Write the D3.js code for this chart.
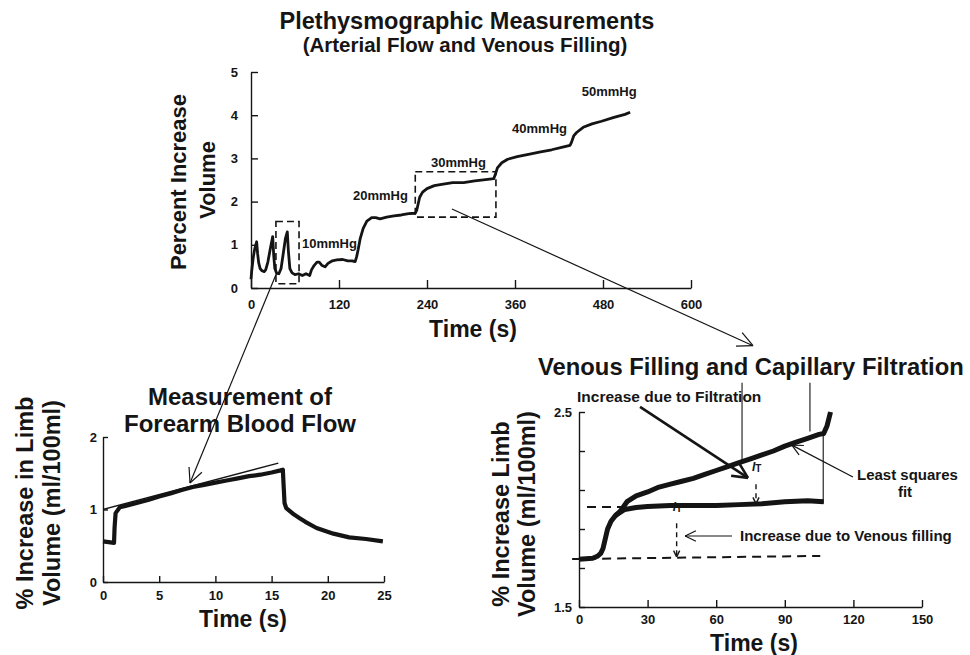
<!DOCTYPE html>
<html>
<head>
<meta charset="utf-8">
<script src="https://cdn.jsdelivr.net/npm/d3@7"></script>
<style>
  body { margin: 0; background: #fff; }
  svg { display: block; }
  text { font-family: "Liberation Sans", Arial, sans-serif; font-weight: bold; fill: #151515; }
  .axis path, .axis line { stroke: #151515; stroke-width: 1.4; }
  .axis text { font-family: "Liberation Sans", Arial, sans-serif; font-weight: bold; font-size: 13px; fill: #151515; }
</style>
</head>
<body>
<div class="chart"></div>
<script>
// Main trace (time s, percent increase volume)
var mainTrace = [
  [0, 0.2], [1, 0.4], [3, 0.7], [5, 0.9], [7.7, 1.07], [9, 0.8], [10.5, 0.58], [12.5, 0.45],
  [15, 0.4], [18, 0.38], [20, 0.42], [23, 0.6], [26, 0.88], [29.6, 1.19], [31, 0.75], [32.5, 0.45],
  [35, 0.34], [38, 0.33], [41, 0.45], [44, 0.8], [47, 1.15], [49.5, 1.3], [51, 0.85], [53, 0.45],
  [56, 0.35], [60, 0.31], [65, 0.33], [70, 0.29], [75, 0.33], [80, 0.29], [82.5, 0.42], [86, 0.52],
  [90, 0.6], [93, 0.6], [97, 0.52], [101, 0.49], [105, 0.57], [111, 0.63], [117, 0.65], [125, 0.66],
  [132, 0.63], [138, 0.63], [142, 0.61], [144, 0.72], [146, 0.88], [149, 1.15], [153, 1.38],
  [158, 1.55], [164.6, 1.63], [170, 1.63], [176, 1.6], [185, 1.64], [195, 1.67], [205, 1.69],
  [215, 1.72], [224, 1.73], [226, 1.8], [228, 1.95], [230, 2.1], [234, 2.22], [240, 2.3],
  [250, 2.37], [260, 2.4], [275, 2.44], [290, 2.44], [305, 2.48], [320, 2.51], [331, 2.53],
  [333, 2.62], [336, 2.78], [342, 2.9], [350, 2.98], [363, 3.04], [380, 3.1], [395, 3.15],
  [410, 3.2], [425, 3.26], [435, 3.3], [437, 3.37], [440, 3.52], [444, 3.6], [453, 3.72],
  [465, 3.8], [478, 3.86], [495, 3.95], [510, 4.02], [517, 4.07]
];
var mainXTicks = [0, 120, 240, 360, 480, 600];
var mainYTicks = [0, 1, 2, 3, 4, 5];
var pressureLabels = ["10mmHg", "20mmHg", "30mmHg", "40mmHg", "50mmHg"];
var pressurePos = [[69.5, 0.93], [139, 2.04], [245.5, 2.8], [356, 3.59], [451, 4.44]];
var zoomBoxes = [[34, 65.5, 0.1, 1.54], [224, 334, 1.64, 2.69]];

// Forearm blood flow trace (time s, % increase)
var flowTrace = [
  [0, 0.56], [0.5, 0.55], [0.98, 0.54], [1.03, 0.75], [1.12, 0.95], [1.5, 1.03], [2, 1.05],
  [3, 1.09], [4, 1.13], [5, 1.18], [6, 1.22], [7, 1.27], [8, 1.31], [9, 1.34], [10, 1.37],
  [11, 1.4], [12, 1.43], [13, 1.46], [14, 1.48], [15, 1.51], [15.8, 1.54], [16, 1.55],
  [16.08, 1.3], [16.15, 1.09], [16.3, 1.02], [17, 0.93], [17.5, 0.88], [18, 0.83], [19, 0.745],
  [20.5, 0.667], [21.9, 0.616], [23.4, 0.593], [24.9, 0.56]
];
var flowFit = [[0, 1.0], [15.6, 1.64]];
var flowXTicks = [0, 5, 10, 15, 20, 25];
var flowYTicks = [0, 1, 2];

// Venous filling traces (time s, % increase)
var fillRise = [
  [0, 1.745], [3, 1.748], [6, 1.75], [8, 1.76], [9.5, 1.775], [10.5, 1.8], [11.5, 1.85],
  [12.5, 1.9], [14, 1.94], [16, 1.97], [18, 1.99]
];
var fillTotal = [
  [18, 1.99], [21, 2.04], [25, 2.07], [30, 2.09], [35, 2.115], [40, 2.13], [45, 2.145],
  [50, 2.16], [55, 2.18], [60, 2.2], [65, 2.22], [70, 2.24], [75, 2.26], [80, 2.28],
  [85, 2.3], [90, 2.325], [95, 2.345], [100, 2.365], [105, 2.385], [107, 2.39], [108.5, 2.43], [110, 2.5]
];
var fillVenous = [
  [16, 1.97], [20, 2.0], [25, 2.01], [30, 2.015], [40, 2.02], [50, 2.02], [60, 2.02],
  [70, 2.025], [80, 2.03], [90, 2.04], [100, 2.045], [107, 2.04]
];
var dashUpper = [[3.5, 2.013], [19, 2.013]];
var dashLower = [[-3, 1.746], [105.5, 1.762]];
var fillXTicks = [0, 30, 60, 90, 120, 150];
var fillYTicks = [1.5, 1.7, 1.9, 2.1, 2.3, 2.5];
var fillYLabels = ["1.5", "", "", "", "", "2.5"];

var svg = d3.select(".chart").append("svg")
  .attr("width", 970).attr("height", 655);

var xMain = d3.scaleLinear().domain([0, 600]).range([251, 691]);
var yMain = d3.scaleLinear().domain([0, 5]).range([288, 72]);
var xFlow = d3.scaleLinear().domain([0, 25]).range([103, 384]);
var yFlow = d3.scaleLinear().domain([0, 2]).range([582, 437]);
var xFill = d3.scaleLinear().domain([0, 150]).range([579, 922]);
var yFill = d3.scaleLinear().domain([1.5, 2.5]).range([607, 412]);

function drawAxes(x, y, xt, yt, xTick, yTick, xPad, yPad, yFmt) {
  svg.append("g").attr("class", "axis")
    .attr("transform", "translate(0," + y.range()[0] + ")")
    .call(d3.axisBottom(x).tickValues(xt).tickSize(-xTick).tickSizeOuter(0).tickPadding(xPad));
  svg.append("g").attr("class", "axis")
    .attr("transform", "translate(" + x.range()[0] + ",0)")
    .call(d3.axisLeft(y).tickValues(yt).tickSize(-yTick).tickSizeOuter(0).tickPadding(yPad)
      .tickFormat(yFmt || d3.format("d")));
}

function trace(x, y, data, w) {
  svg.append("path").datum(data)
    .attr("fill", "none").attr("stroke", "#141414").attr("stroke-width", w)
    .attr("stroke-linejoin", "round")
    .attr("d", d3.line().x(function (d) { return x(d[0]); }).y(function (d) { return y(d[1]); }));
}

// open arrowhead arrow
function arrow(x1, y1, x2, y2, w, len, dash) {
  svg.append("line").attr("x1", x1).attr("y1", y1).attr("x2", x2).attr("y2", y2)
    .attr("stroke", "#141414").attr("stroke-width", w)
    .attr("stroke-dasharray", dash || null);
  var a = Math.atan2(y2 - y1, x2 - x1);
  [-0.45, 0.45].forEach(function (da) {
    svg.append("line").attr("x1", x2).attr("y1", y2)
      .attr("x2", x2 - len * Math.cos(a + da)).attr("y2", y2 - len * Math.sin(a + da))
      .attr("stroke", "#141414").attr("stroke-width", w);
  });
}

function label(x, y, txt, size, anchor, rot) {
  var t = svg.append("text").attr("font-size", size).attr("text-anchor", anchor || "start").text(txt);
  if (rot) t.attr("transform", "translate(" + x + "," + y + ") rotate(-90)");
  else t.attr("x", x).attr("y", y);
  return t;
}

//---- main chart
drawAxes(xMain, yMain, mainXTicks, mainYTicks, 8, 7, 12, 13);
trace(xMain, yMain, mainTrace, 2.8);
zoomBoxes.forEach(function (b) {
  svg.append("rect")
    .attr("x", xMain(b[0])).attr("y", yMain(b[3]))
    .attr("width", xMain(b[1]) - xMain(b[0])).attr("height", yMain(b[2]) - yMain(b[3]))
    .attr("fill", "none").attr("stroke", "#141414").attr("stroke-width", 1.6)
    .attr("stroke-dasharray", "7,4");
});
pressureLabels.forEach(function (p, i) {
  label(xMain(pressurePos[i][0]), yMain(pressurePos[i][1]), p, 13);
});
label(467, 29, "Plethysmographic Measurements", 23.5, "middle");
label(465, 52, "(Arterial Flow and Venous Filling)", 20.5, "middle");
label(473, 337, "Time (s)", 23, "middle");
label(186, 182, "Percent Increase", 22, "middle", true);
label(215, 180, "Volume", 22, "middle", true);

//---- forearm blood flow
drawAxes(xFlow, yFlow, flowXTicks, flowYTicks, 6, 5, 9, 6);
trace(xFlow, yFlow, flowTrace, 4.2);
trace(xFlow, yFlow, flowFit, 1.3);
label(240, 405, "Measurement of", 24, "middle");
label(240, 432, "Forearm Blood Flow", 24, "middle");
label(243, 627, "Time (s)", 23, "middle");
label(33, 503, "% Increase in Limb", 23.5, "middle", true);
label(60, 503, "Volume (ml/100ml)", 23.5, "middle", true);

//---- venous filling and capillary filtration
drawAxes(xFill, yFill, fillXTicks, fillYTicks, 7, 6, 8, 7,
  function (d, i) { return fillYLabels[i]; });
trace(xFill, yFill, fillRise, 5);
trace(xFill, yFill, fillTotal, 5);
trace(xFill, yFill, fillVenous, 5);
[dashUpper, dashLower].forEach(function (d) {
  svg.append("path").datum(d)
    .attr("fill", "none").attr("stroke", "#141414").attr("stroke-width", 2)
    .attr("stroke-dasharray", "9,6")
    .attr("d", d3.line().x(function (p) { return xFill(p[0]); }).y(function (p) { return yFill(p[1]); }));
});
// vertical guide lines of the fit
[[71.3, 2.65, 2.237], [101, 2.65, 2.4], [106.8, 2.4, 2.03]].forEach(function (v) {
  svg.append("line")
    .attr("x1", xFill(v[0])).attr("x2", xFill(v[0]))
    .attr("y1", yFill(v[1])).attr("y2", yFill(v[2]))
    .attr("stroke", "#141414").attr("stroke-width", 1.1);
});
// I_T markers
[[77.4, 2.13, 2.03, 2.2], [42.7, 1.93, 1.757, 1.99]].forEach(function (m) {
  arrow(xFill(m[0]), yFill(m[1]), xFill(m[0]), yFill(m[2]), 1.4, 7, "5,4");
  var t = svg.append("text").attr("x", xFill(m[0]) - 4).attr("y", yFill(m[3]))
    .attr("font-size", 12).attr("font-family", "DejaVu Serif").attr("font-style", "italic").text("I");
  t.append("tspan").attr("font-size", 10).attr("font-style", "normal").attr("dy", 1).text("T");
});
arrow(xFill(26.7), yFill(2.526), xFill(73.9), yFill(2.162), 2.6, 17);
arrow(xFill(119.8), yFill(2.167), xFill(93.1), yFill(2.33), 1.2, 12);
arrow(xFill(66.9), yFill(1.864), xFill(46.4), yFill(1.864), 1.2, 12);
label(577, 402, "Increase due to Filtration", 15.5);
label(740, 541, "Increase due to Venous filling", 15);
label(857, 480, "Least  squares", 15);
label(905, 497, "fit", 15, "middle");
label(538, 375, "Venous Filling and Capillary Filtration", 23.8);
label(754, 651, "Time (s)", 23, "middle");
label(509, 514, "% Increase Limb", 23.5, "middle", true);
label(535, 514, "Volume (ml/100ml)", 23.5, "middle", true);

//---- connector arrows between panels
arrow(xMain(35.5), yMain(0.37), xFlow(7.74), yFlow(1.366), 1.2, 16);
arrow(xMain(274), yMain(1.83), xFill(76.1), yFill(2.84), 1.2, 17);
</script>
</body>
</html>
